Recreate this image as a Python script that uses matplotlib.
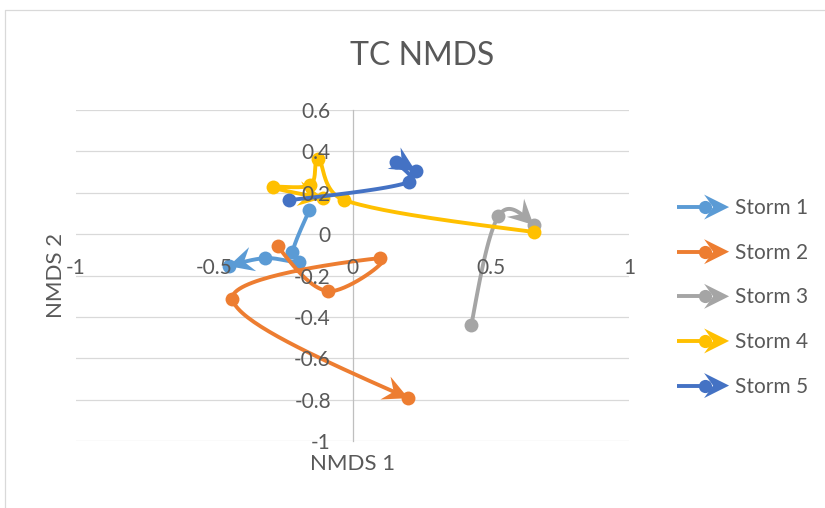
import numpy as np
import matplotlib
matplotlib.use("Agg")
import matplotlib.pyplot as plt
from matplotlib.patches import Polygon
from matplotlib.lines import Line2D
from matplotlib.legend_handler import HandlerBase

plt.rcParams['font.family'] = ['Lato', 'DejaVu Sans']

# ---------------- data ----------------
title = "TC NMDS"
x_title = "NMDS 1"
y_title = "NMDS 2"
series_names = ["Storm 1", "Storm 2", "Storm 3", "Storm 4", "Storm 5"]
series_colors = ["#5B9BD5", "#ED7D31", "#A5A5A5", "#FFC000", "#4472C4"]

storm1_x = [-0.156, -0.217, -0.195, -0.315, -0.448]
storm1_y = [0.116, -0.087, -0.135, -0.116, -0.155]
storm2_x = [-0.271, -0.087, 0.101, -0.434, 0.202]
storm2_y = [-0.058, -0.276, -0.116, -0.314, -0.793]
storm3_x = [0.430, 0.528, 0.655]
storm3_y = [-0.440, 0.087, 0.044]
storm4_x = [0.658, -0.029, -0.123, -0.152, -0.286, -0.105]
storm4_y = [0.010, 0.164, 0.363, 0.237, 0.227, 0.174]
storm5_x = [-0.231, 0.203, 0.159, 0.228]
storm5_y = [0.164, 0.251, 0.348, 0.305]

x_ticks = [-1, -0.5, 0, 0.5, 1]
x_tick_labels = ["-1", "-0.5", "0", "0.5", "1"]
y_ticks = [-1, -0.8, -0.6, -0.4, -0.2, 0, 0.2, 0.4, 0.6]
y_tick_labels = ["-1", "-0.8", "-0.6", "-0.4", "-0.2", "0", "0.2", "0.4", "0.6"]

series_x = [storm1_x, storm2_x, storm3_x, storm4_x, storm5_x]
series_y = [storm1_y, storm2_y, storm3_y, storm4_y, storm5_y]

# ---------------- style ----------------
W, H = 825, 508
TXT = "#595959"
GRID = "#D9D9D9"
LW = 2.8
MS = 10
ARROW_L, ARROW_W, ARROW_N = 25.0, 12.5, 9.0   # pixels

fig = plt.figure(figsize=(W / 100, H / 100), dpi=100)
ax = fig.add_axes([76 / W, 1 - 441 / H, 553 / W, 331 / H])
ax.set_xlim(-1, 1)
ax.set_ylim(-1, 0.6)

for s in ["top", "right", "bottom"]:
    ax.spines[s].set_visible(False)
ax.spines["left"].set_position(("data", 0))
ax.spines["left"].set_color("#BFBFBF")
ax.spines["left"].set_linewidth(0.9)
ax.spines["left"].set_zorder(0.6)
ax.spines["bottom"].set_position(("data", 0))

ax.set_xticks(x_ticks)
ax.set_xticklabels(x_tick_labels)
ax.set_yticks(y_ticks)
ax.set_yticklabels(y_tick_labels)
ax.tick_params(axis="both", length=0, labelsize=15, labelcolor=TXT)
ax.tick_params(axis="x", pad=17)
ax.tick_params(axis="y", pad=15.5)
ax.set_axisbelow(False)
for yv in y_ticks:
    ax.axhline(yv, color=GRID, lw=0.9, zorder=0.5)


def smooth_display(x, y, n=40):
    """Excel-like smoothed line, computed in display pixels."""
    P = ax.transData.transform(np.column_stack([x, y]).astype(float))
    m = len(P)
    t = np.linspace(0, 1, n)[1:, None]
    out = [P[0]]
    for i in range(m - 1):
        p1, p2 = P[i], P[i + 1]
        L12 = np.hypot(*(p2 - p1))
        c1 = c2 = None
        if i > 0:
            v = (p2 - P[i - 1]) / 6.0
            nv = np.hypot(*v)
            if nv > L12 / 2:
                v = v * (L12 / 2) / nv
            c1 = p1 + v
        if i + 2 < m:
            v = (P[i + 2] - p1) / 6.0
            nv = np.hypot(*v)
            if nv > L12 / 2:
                v = v * (L12 / 2) / nv
            c2 = p2 - v
        if c1 is None and c2 is None:
            c1 = p1 + (p2 - p1) / 3.0
            c2 = p2 - (p2 - p1) / 3.0
        elif c1 is None:
            c1 = p1 + (c2 - p1) / 2.0
        elif c2 is None:
            c2 = p2 + (c1 - p2) / 2.0
        seg = ((1 - t) ** 3) * p1 + 3 * ((1 - t) ** 2) * t * c1 + 3 * (1 - t) * (t ** 2) * c2 + (t ** 3) * p2
        out.extend(seg)
    return np.array(out)


def head_vertices(tip, d):
    nrm = np.array([-d[1], d[0]])
    return np.array([tip,
                     tip - ARROW_L * d + ARROW_W * nrm,
                     tip - (ARROW_L - ARROW_N) * d,
                     tip - ARROW_L * d - ARROW_W * nrm])


inv = ax.transData.inverted()
handles = []
for k, (xs, ys) in enumerate(zip(series_x, series_y)):
    c = series_colors[k]
    z = 2 + k * 0.1
    disp = smooth_display(xs, ys)
    curve = inv.transform(disp)
    ln, = ax.plot(curve[:, 0], curve[:, 1], color=c, lw=LW, zorder=z,
                  solid_capstyle="round", solid_joinstyle="round", label=series_names[k])
    tip = disp[-1]
    back = disp[-3]
    d = (tip - back) / np.hypot(*(tip - back))
    verts = inv.transform(head_vertices(tip, d))
    ax.add_patch(Polygon(verts, closed=True, fc=c, ec="none", zorder=z + 0.01, clip_on=False))
    ax.plot(xs, ys, ls="none", marker="o", ms=MS, mew=0, color=c, zorder=z + 0.02, clip_on=False)
    handles.append(ln)


class ArrowHandler(HandlerBase):
    def create_artists(self, legend, orig_handle, xdescent, ydescent, width, height, fontsize, trans):
        c = orig_handle.get_color()
        s = 72.0 / fig.dpi
        L, Wd, N = ARROW_L * s, ARROW_W * s, ARROW_N * s
        y0 = height / 2 - ydescent
        x0 = -xdescent
        x1 = x0 + width
        line = Line2D([x0, x1 - L + 2], [y0, y0], color=c, lw=LW, solid_capstyle="butt", transform=trans)
        head = Polygon([[x1, y0], [x1 - L, y0 + Wd], [x1 - L + N, y0], [x1 - L, y0 - Wd]],
                       closed=True, fc=c, ec="none", transform=trans)
        mk = Line2D([x1 - L + 1], [y0], marker="o", ms=MS - 0.5, mew=0, color=c, ls="none", transform=trans)
        return [line, head, mk]


leg = fig.legend(handles=handles, labels=series_names, handler_map={Line2D: ArrowHandler()},
                 loc="center left", bbox_to_anchor=(677 / W, 1 - 296.5 / H),
                 bbox_transform=fig.transFigure, frameon=False, fontsize=15,
                 handlelength=2.5, handleheight=1.2, handletextpad=0.3, labelspacing=1.1,
                 borderpad=0, borderaxespad=0)
for t in leg.get_texts():
    t.set_color(TXT)

fig.text(422 / W, 1 - 65 / H, title, ha="center", va="baseline", fontsize=23, color=TXT)
fig.text(353 / W, 1 - 470 / H, x_title, ha="center", va="baseline", fontsize=16, color=TXT)
fig.text(62 / W, 1 - 275 / H, y_title, ha="center", va="baseline", rotation=90,
         rotation_mode="anchor", fontsize=16, color=TXT)

# chart area border (left and top visible)
fig.add_artist(Line2D([5 / W, 5 / W, 1.0], [0.0, 1 - 10 / H, 1 - 10 / H],
                      transform=fig.transFigure, color=GRID, lw=0.9))

fig.savefig("out.png", dpi=100)
